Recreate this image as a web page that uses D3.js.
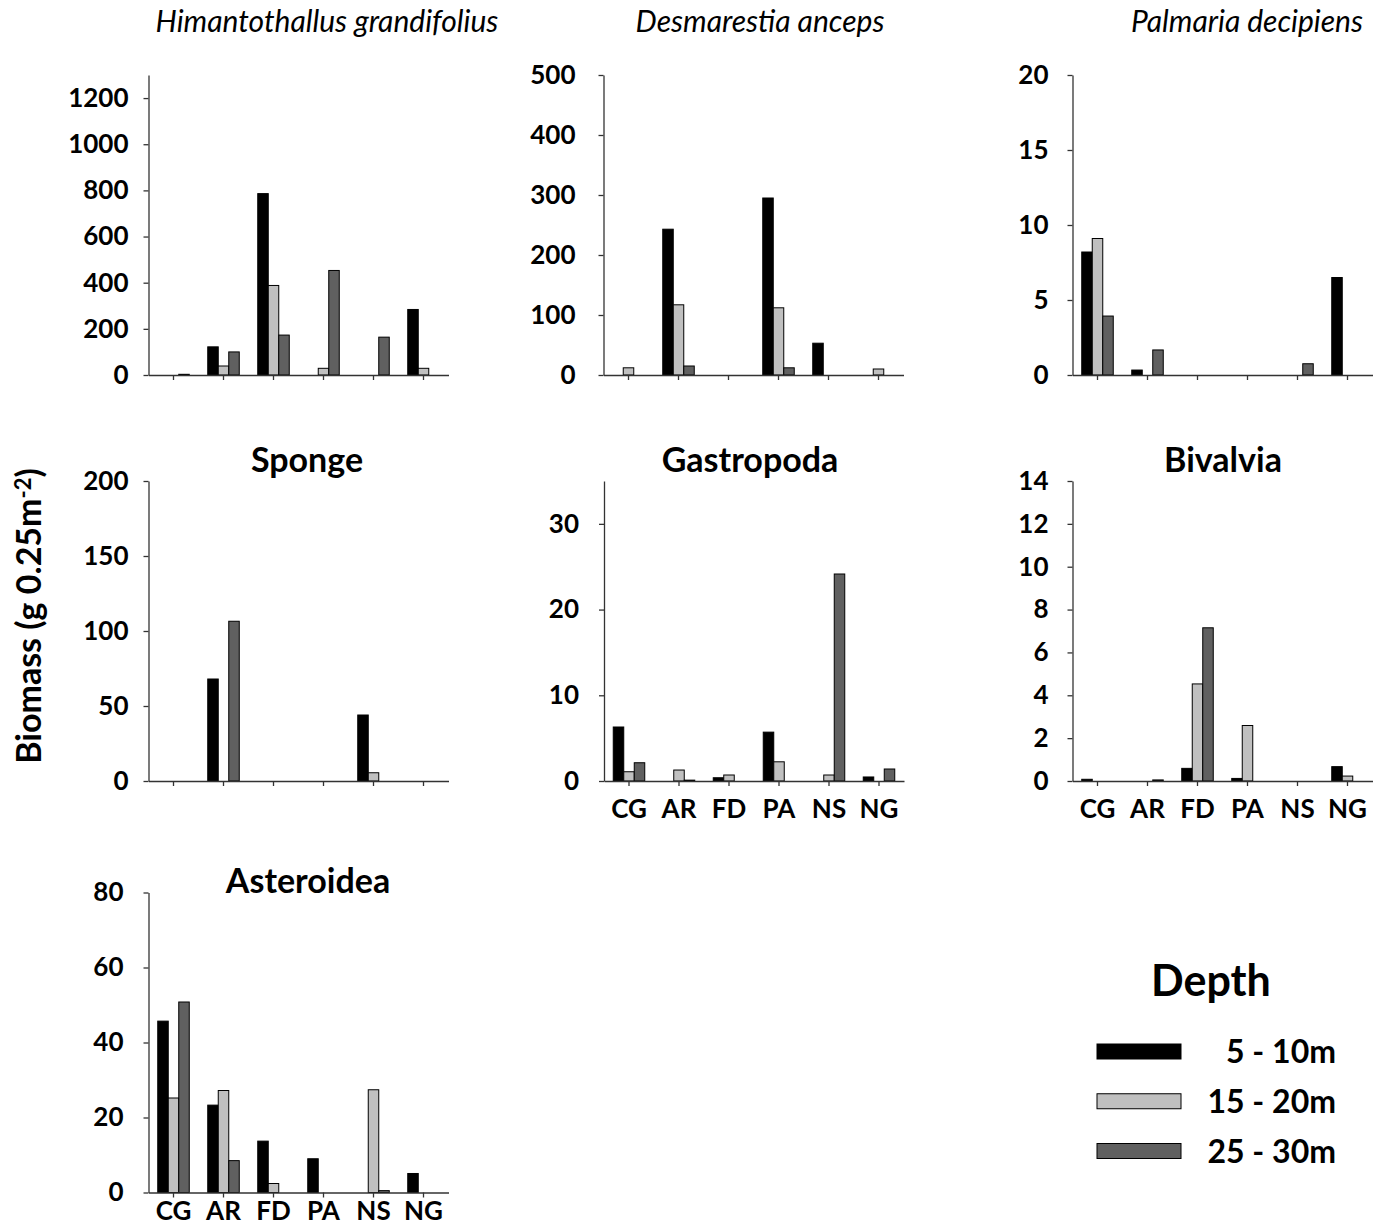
<!DOCTYPE html>
<html lang="en">
    <head>
        <meta charset="utf-8">
        <title>Biomass by site and depth</title>
        <script type="text/javascript" src="https://cdn.jsdelivr.net/npm/d3@7"></script>
        <style type="text/css">
            body { margin: 0; background: #fff; }
            svg { display: block; font-family: Lato, "Open Sans", sans-serif; }
            .axis path, .axis line { fill: none; stroke: #333; stroke-width: 1.3px; }
            .axis text { font-family: Lato, "Open Sans", sans-serif; font-size: 26px; font-weight: bold; fill: #000; }
            .title { font-size: 34px; font-weight: bold; text-anchor: middle; }
            .species { font-size: 30px; font-style: italic; text-anchor: middle; }
        </style>
    </head>
    <body>
        <script type="text/javascript">

            var w = 1380;
            var h = 1226;

            // Sites and depth classes
            var sites = ["CG", "AR", "FD", "PA", "NS", "NG"];
            var depths = ["5 - 10m", "15 - 20m", "25 - 30m"];
            var colors = ["#000000", "#c0c0c0", "#606060"];

            // Biomass per depth class (rows) and site (columns)
            var himantothallus = [[0, 122, 786, 0, 0, 284], [0, 39, 388, 29, 0, 29], [3, 100, 173, 453, 164, 0]];
            var desmarestia = [[0, 243, 0, 295, 53, 0], [12, 117, 0, 112, 0, 10], [0, 15, 0, 12, 0, 0]];
            var palmaria = [[8.2, 0.33, 0, 0, 0, 6.5], [9.1, 0, 0, 0, 0, 0], [3.93, 1.67, 0, 0, 0.75, 0]];
            var sponge = [[0, 68, 0, 0, 44, 0], [0, 0, 0, 0, 5.5, 0], [0, 106.5, 0, 0, 0, 0]];
            var gastropoda = [[6.3, 0, 0.38, 5.7, 0, 0.47], [1.08, 1.28, 0.7, 2.24, 0.7, 0], [2.13, 0.1, 0, 0, 24.15, 1.4]];
            var bivalvia = [[0.08, 0, 0.59, 0.12, 0, 0.67], [0, 0, 4.53, 2.59, 0, 0.23], [0, 0.05, 7.15, 0, 0, 0]];
            var asteroidea = [[45.7, 23.3, 13.7, 9.0, 0, 5.07], [25.2, 27.2, 2.4, 0, 27.4, 0], [50.8, 8.5, 0, 0, 0.5, 0]];

            // Tick labels
            var himantothallusTicks = [0, 200, 400, 600, 800, 1000, 1200];
            var desmarestiaTicks = [0, 100, 200, 300, 400, 500];
            var palmariaTicks = [0, 5, 10, 15, 20];
            var spongeTicks = [0, 50, 100, 150, 200];
            var gastropodaTicks = [0, 10, 20, 30];
            var bivalviaTicks = [0, 2, 4, 6, 8, 10, 12, 14];
            var asteroideaTicks = [0, 20, 40, 60, 80];

            var svg = d3.select("body")
                        .append("svg")
                        .attr("width", w)
                        .attr("height", h);

            // Panel layout
            var panels = [
                {name: "Himantothallus grandifolius", italic: true, data: himantothallus, ticks: himantothallusTicks, max: 1300,
                 x: 148.5, top: 75, bottom: 375, tx: 327, ty: 32, pad: 15, labels: false},
                {name: "Desmarestia anceps", italic: true, data: desmarestia, ticks: desmarestiaTicks, max: 500,
                 x: 603.5, top: 75, bottom: 375, tx: 760, ty: 32, pad: 23, labels: false},
                {name: "Palmaria decipiens", italic: true, data: palmaria, ticks: palmariaTicks, max: 20,
                 x: 1072.5, top: 75, bottom: 375, tx: 1247, ty: 32, pad: 19, labels: false},
                {name: "Sponge", data: sponge, ticks: spongeTicks, max: 200,
                 x: 148.5, top: 481, bottom: 781, tx: 307, ty: 472, pad: 15, labels: false},
                {name: "Gastropoda", data: gastropoda, ticks: gastropodaTicks, max: 35,
                 x: 604, top: 481, bottom: 781, tx: 750, ty: 472, pad: 20, labels: true, lpad: 14},
                {name: "Bivalvia", data: bivalvia, ticks: bivalviaTicks, max: 14,
                 x: 1072.5, top: 481, bottom: 781, tx: 1223, ty: 472, pad: 19, labels: true, lpad: 14},
                {name: "Asteroidea", data: asteroidea, ticks: asteroideaTicks, max: 80,
                 x: 148.5, top: 892.5, bottom: 1192.5, tx: 308, ty: 893, pad: 20, labels: true, lpad: 4}
            ];

            var bandWidth = 300;

            panels.forEach(function(p) {
                var g = svg.append("g");

                var xScale = d3.scaleBand()
                               .domain(sites)
                               .range([p.x, p.x + bandWidth]);

                var innerScale = d3.scaleBand()
                                   .domain(d3.range(depths.length))
                                   .range([(xScale.bandwidth() - 31.5) / 2, (xScale.bandwidth() + 31.5) / 2]);

                var yScale = d3.scaleLinear()
                               .domain([0, p.max])
                               .range([p.bottom, p.top]);

                // Bars
                p.data.forEach(function(series, si) {
                    g.append("g")
                     .selectAll("rect")
                     .data(series.map(function(v, i) { return {site: sites[i], v: v}; })
                                 .filter(function(d) { return d.v > 0; }))
                     .enter()
                     .append("rect")
                     .attr("x", function(d) { return xScale(d.site) + innerScale(si); })
                     .attr("y", function(d) { return yScale(d.v); })
                     .attr("width", innerScale.bandwidth())
                     .attr("height", function(d) { return yScale(0) - yScale(d.v); })
                     .attr("fill", colors[si])
                     .attr("stroke", "#000")
                     .attr("stroke-width", 1);
                });

                // Axes
                var xAxis = d3.axisBottom(xScale)
                              .tickSize(5)
                              .tickSizeOuter(0)
                              .tickPadding(p.labels ? p.lpad : 0)
                              .tickFormat(function(d) { return p.labels ? d : ""; });

                g.append("g")
                 .attr("class", "axis")
                 .attr("transform", "translate(0," + p.bottom + ")")
                 .call(xAxis);

                var yAxis = d3.axisLeft(yScale)
                              .tickValues(p.ticks)
                              .tickSize(5)
                              .tickSizeOuter(0)
                              .tickPadding(p.pad)
                              .tickFormat(d3.format("d"));

                g.append("g")
                 .attr("class", "axis")
                 .attr("transform", "translate(" + p.x + ",0)")
                 .call(yAxis);

                // Title
                g.append("text")
                 .attr("class", p.italic ? "species" : "title")
                 .attr("x", p.tx)
                 .attr("y", p.ty)
                 .text(p.name);
            });

            // Y axis label
            var ylab = svg.append("text")
                          .attr("transform", "translate(41,616) rotate(-90)")
                          .attr("text-anchor", "middle")
                          .attr("font-size", "34px")
                          .attr("font-weight", "bold");
            ylab.append("tspan").text("Biomass (g 0.25m");
            ylab.append("tspan").attr("dy", "-0.45em").attr("font-size", "22px").text("-2");
            ylab.append("tspan").attr("dy", "0.3em").text(")");

            // Legend
            var legend = svg.append("g");

            legend.append("text")
                  .attr("x", 1211)
                  .attr("y", 996)
                  .attr("text-anchor", "middle")
                  .attr("font-size", "43px")
                  .attr("font-weight", "bold")
                  .text("Depth");

            var legendY = d3.scalePoint()
                            .domain(depths)
                            .range([1051.5, 1151]);

            legend.selectAll("rect")
                  .data(depths)
                  .enter()
                  .append("rect")
                  .attr("x", 1097)
                  .attr("y", function(d) { return legendY(d) - 7.5; })
                  .attr("width", 84)
                  .attr("height", 15)
                  .attr("fill", function(d, i) { return colors[i]; })
                  .attr("stroke", "#000")
                  .attr("stroke-width", 1);

            legend.selectAll(".lab")
                  .data(depths)
                  .enter()
                  .append("text")
                  .attr("class", "lab")
                  .attr("x", 1336)
                  .attr("y", function(d) { return legendY(d); })
                  .attr("dy", "0.36em")
                  .attr("text-anchor", "end")
                  .attr("font-size", "32px")
                  .attr("font-weight", "bold")
                  .text(function(d) { return d; });

        </script>
    </body>
</html>
